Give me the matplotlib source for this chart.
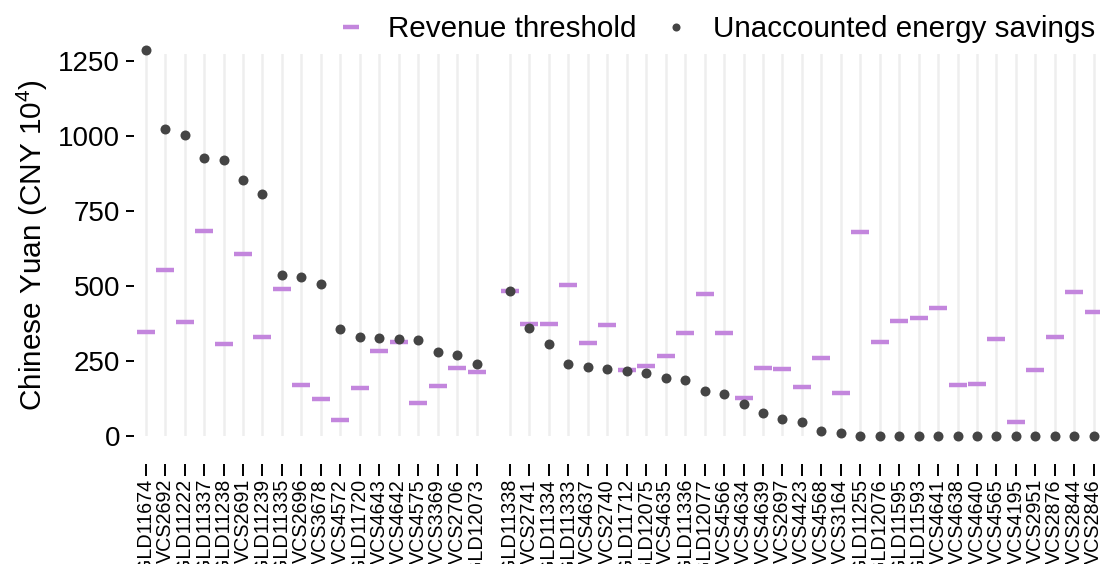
import matplotlib
matplotlib.use("Agg")
import matplotlib.pyplot as plt
from matplotlib.lines import Line2D

plt.rcParams['font.family'] = ['Liberation Sans', 'DejaVu Sans']
plt.rcParams['mathtext.default'] = 'regular'

labels1 = ["GLD11674", "VCS2692", "GLD11222", "GLD11337", "GLD11238", "VCS2691",
           "GLD11239", "GLD11335", "VCS2696", "VCS3678", "VCS4572", "GLD11720",
           "VCS4643", "VCS4642", "VCS4575", "VCS3369", "VCS2706", "GLD12073"]
savings1 = [1287, 1023, 1005, 928, 920, 852, 807, 537, 529, 506, 356, 329, 327,
            322, 320, 281, 270, 240]
threshold1 = [347, 552, 379, 683, 306, 607, 329, 490, 170, 123, 53, 159, 283,
              312, 109, 167, 228, 214]

labels2 = ["GLD11338", "VCS2741", "GLD11334", "GLD11333", "VCS4637", "VCS2740",
           "GLD11712", "GLD12075", "VCS4635", "GLD11336", "GLD12077", "VCS4566",
           "VCS4634", "VCS4639", "VCS2697", "VCS4423", "VCS4568", "VCS3164",
           "GLD11255", "GLD12076", "GLD11595", "GLD11593", "VCS4641", "VCS4638",
           "VCS4640", "VCS4565", "VCS4195", "VCS2951", "VCS2876", "VCS2844", "VCS2846"]
savings2 = [483, 361, 307, 241, 231, 223, 218, 210, 193, 188, 151, 140, 106, 78,
            57, 47, 17, 11, 0, 0, 0, 0, 0, 0, 0, 0, 0, 0, 0, 0, 0]
threshold2 = [484, 373, 373, 504, 309, 369, 219, 232, 268, 344, 472, 343, 126,
              228, 224, 162, 261, 144, 680, 313, 383, 393, 426, 171, 173, 324,
              46, 219, 329, 479, 414]

yticks = [0, 250, 500, 750, 1000, 1250]

W, H = 1100, 564
fig = plt.figure(figsize=(W / 100, H / 100), dpi=100)

s = 19.46
x_first = [145.7, 510.0]
y0_px, ytop_val = 436.0, 1275.0
ytop_px = y0_px - ytop_val * 0.3

dot_color = '#444444'
thr_color = '#c386dd'
grid_color = '#eeeeee'

axes = []
for i, (labs, sv, th) in enumerate([(labels1, savings1, threshold1),
                                    (labels2, savings2, threshold2)]):
    n = len(labs)
    left = x_first[i] - 0.6 * s
    width = (n + 0.2) * s
    ax = fig.add_axes([left / W, (H - y0_px) / H, width / W, (y0_px - ytop_px) / H])
    axes.append(ax)
    x = list(range(n))
    ax.set_xlim(-0.6, n - 0.4)
    ax.set_ylim(0, ytop_val)
    for xi in x:
        ax.axvline(xi, color=grid_color, lw=1.8, zorder=0)
    ax.plot(x, th, linestyle='none', marker='_', ms=12.5, mew=3.2,
            color=thr_color, clip_on=False, zorder=2)
    ax.plot(x, sv, linestyle='none', marker='o', ms=7.2, mew=0,
            color=dot_color, clip_on=False, zorder=3)
    for sp in ax.spines.values():
        sp.set_visible(False)
    ax.spines['bottom'].set_position(('outward', 20))
    ax.set_xticks(x)
    ax.set_xticklabels(labs, rotation=90, fontsize=14.2)
    ax.tick_params(axis='x', length=8.5, width=1.4, pad=2.5, color='black')
    if i == 0:
        ax.set_yticks(yticks)
        ax.set_yticklabels([str(v) for v in yticks], fontsize=20)
        ax.tick_params(axis='y', length=6, width=1.4, pad=4, color='black')
    else:
        ax.set_yticks([])
    ax.patch.set_visible(False)

fig.text(32 / W, 1 - 245 / H, 'Chinese Yuan (CNY 10$^4$)', rotation=90,
         ha='center', va='center', fontsize=21.4)

handles = [Line2D([], [], linestyle='none', marker='_', ms=12, mew=3.2, color=thr_color),
           Line2D([], [], linestyle='none', marker='o', ms=5.8, mew=0, color=dot_color)]
fig.legend(handles, ['Revenue threshold', 'Unaccounted energy savings'],
           loc='upper right', bbox_to_anchor=(1.012, 1.005), ncol=2, frameon=False,
           fontsize=21.3, handlelength=1.0, handletextpad=0.75, columnspacing=0.85,
           borderaxespad=0.2)

fig.savefig('out.png', dpi=100)
